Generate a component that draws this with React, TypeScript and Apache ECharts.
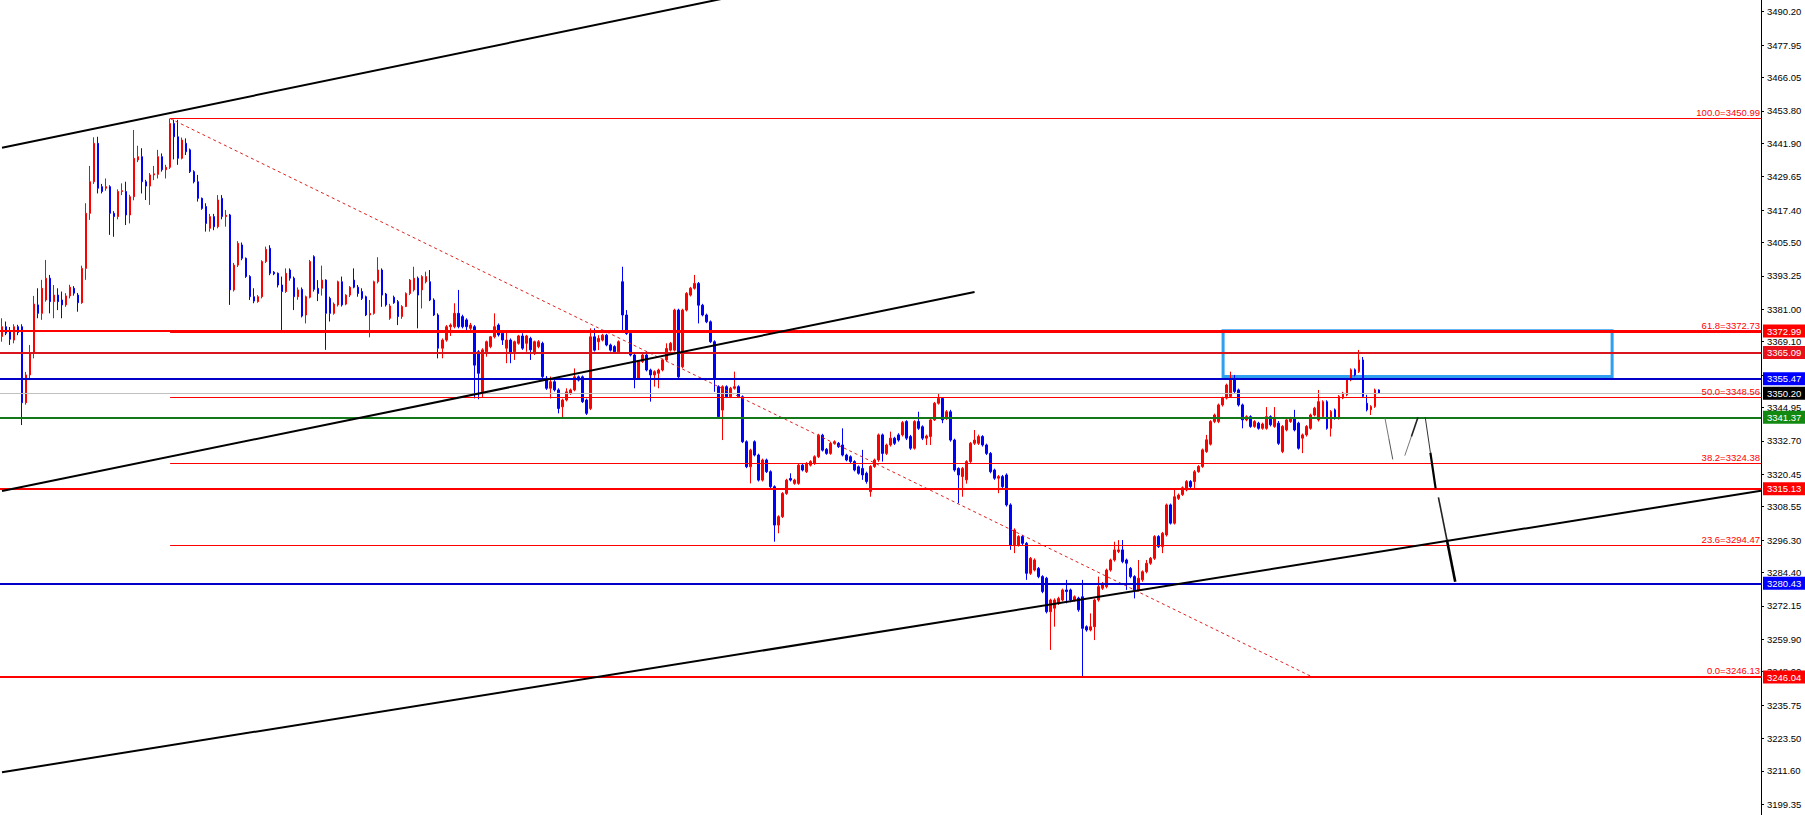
import React, { useEffect, useRef } from "react";
import * as echarts from "echarts";

// ---- candle data: [open, close, low, high] ----
const candlesA = [
  [3371.0, 3374.6, 3369.1, 3377.7], [3374.6, 3372.2, 3371.5, 3376.5], [3373.0, 3370.0, 3367.9, 3374.5],
  [3369.7, 3374.6, 3368.5, 3375.5], [3374.6, 3372.5, 3371.5, 3375.3], [3374.6, 3346.7, 3338.5, 3375.5],
  [3346.7, 3356.9, 3346.0, 3358.0], [3356.9, 3364.8, 3355.0, 3367.9], [3364.8, 3382.9, 3363.0, 3385.9],
  [3382.6, 3379.5, 3377.7, 3388.7], [3379.5, 3388.7, 3377.1, 3391.8], [3384.4, 3392.4, 3383.8, 3399.1],
  [3392.4, 3383.8, 3379.5, 3393.6], [3383.8, 3386.2, 3377.7, 3389.9], [3386.2, 3383.8, 3380.7, 3388.7],
  [3384.4, 3382.6, 3377.7, 3387.5], [3382.6, 3385.9, 3381.9, 3386.9], [3385.9, 3389.1, 3385.0, 3390.0],
  [3388.7, 3386.9, 3386.0, 3389.5], [3386.2, 3383.4, 3380.1, 3387.0], [3383.4, 3396.0, 3383.0, 3397.0],
  [3396.0, 3416.2, 3391.8, 3419.9], [3416.2, 3427.8, 3413.8, 3433.6], [3427.8, 3441.9, 3427.0, 3444.1],
  [3441.9, 3425.4, 3423.5, 3444.3], [3426.0, 3424.2, 3423.5, 3427.0], [3425.4, 3426.0, 3424.5, 3429.0],
  [3426.0, 3416.2, 3408.3, 3426.5], [3416.2, 3415.0, 3407.6, 3417.0], [3415.0, 3424.2, 3414.0, 3425.0],
  [3424.2, 3424.5, 3422.9, 3427.2], [3424.2, 3415.6, 3411.9, 3427.8], [3415.6, 3422.3, 3412.5, 3423.0],
  [3422.3, 3436.4, 3421.0, 3446.8], [3435.8, 3437.0, 3435.0, 3441.0], [3437.0, 3427.8, 3423.5, 3440.1],
  [3427.8, 3426.2, 3421.1, 3428.5], [3426.2, 3430.3, 3419.3, 3431.0], [3430.3, 3430.7, 3428.4, 3433.6],
  [3430.5, 3437.0, 3429.0, 3439.5], [3437.0, 3432.2, 3431.5, 3438.2], [3432.2, 3433.1, 3429.0, 3434.0],
  [3433.1, 3449.2, 3432.5, 3450.99], [3449.2, 3444.3, 3436.0, 3450.6], [3444.3, 3436.4, 3434.0, 3450.5],
  [3436.4, 3443.1, 3436.0, 3444.0], [3441.9, 3438.8, 3437.6, 3443.7], [3439.5, 3431.5, 3431.0, 3440.0],
  [3431.5, 3427.8, 3427.2, 3432.0], [3427.8, 3421.7, 3420.5, 3430.3], [3421.7, 3418.0, 3417.5, 3422.0],
  [3418.7, 3412.5, 3409.5, 3419.9], [3410.7, 3415.0, 3409.5, 3416.0], [3415.0, 3411.3, 3410.0, 3416.0],
  [3411.3, 3421.1, 3410.7, 3422.9], [3421.7, 3415.0, 3414.0, 3422.9], [3415.0, 3415.5, 3411.3, 3417.4],
  [3415.6, 3388.1, 3382.6, 3416.0], [3388.1, 3397.2, 3387.5, 3398.0], [3397.2, 3405.2, 3396.5, 3406.0],
  [3404.6, 3399.7, 3399.0, 3405.5], [3399.7, 3393.0, 3392.5, 3400.0], [3393.0, 3385.6, 3384.4, 3393.5],
  [3385.6, 3384.0, 3383.2, 3388.7], [3383.8, 3385.6, 3383.4, 3386.2], [3385.6, 3398.5, 3385.0, 3399.0],
  [3398.5, 3403.0, 3398.0, 3404.0], [3403.4, 3394.2, 3393.5, 3404.5], [3394.6, 3394.0, 3393.5, 3395.0],
  [3394.2, 3389.9, 3389.0, 3394.5], [3389.9, 3387.5, 3373.4, 3393.0], [3387.5, 3394.2, 3387.0, 3396.0],
  [3395.4, 3392.4, 3391.5, 3396.0], [3392.4, 3385.6, 3380.7, 3393.0], [3385.6, 3388.1, 3384.5, 3389.0],
];
const candlesB = [
  [3388.3, 3378.5, 3378.0, 3389.0], [3378.9, 3385.6, 3375.8, 3386.0], [3385.4, 3398.5, 3385.0, 3399.1],
  [3400.3, 3388.3, 3387.5, 3400.8], [3388.7, 3386.8, 3384.0, 3391.7], [3388.7, 3391.7, 3386.0, 3397.0],
  [3391.7, 3379.5, 3366.1, 3392.0], [3385.0, 3379.5, 3376.5, 3385.6], [3379.5, 3382.9, 3379.0, 3383.5],
  [3382.6, 3391.1, 3382.0, 3391.5], [3391.1, 3382.6, 3382.0, 3393.0], [3382.9, 3386.2, 3382.5, 3386.5],
  [3386.2, 3389.1, 3385.5, 3389.5], [3391.7, 3389.1, 3388.7, 3396.0], [3389.1, 3386.8, 3385.6, 3389.9],
  [3387.5, 3385.0, 3384.4, 3388.7], [3385.6, 3378.9, 3378.5, 3386.0], [3378.9, 3379.5, 3370.7, 3384.4],
  [3379.5, 3391.1, 3379.0, 3391.5], [3391.1, 3395.4, 3390.5, 3400.1], [3395.4, 3386.2, 3381.9, 3396.0],
  [3386.6, 3382.6, 3382.0, 3387.0], [3377.7, 3382.2, 3377.1, 3383.0], [3385.4, 3383.4, 3383.0, 3386.0],
  [3383.8, 3378.3, 3375.2, 3384.4], [3378.3, 3382.0, 3377.5, 3382.5], [3382.0, 3386.8, 3381.8, 3387.2],
  [3386.8, 3391.7, 3386.2, 3392.1], [3388.1, 3392.4, 3387.5, 3396.6], [3392.4, 3386.2, 3374.0, 3393.0],
  [3388.1, 3393.0, 3381.3, 3393.5], [3391.1, 3393.0, 3390.5, 3394.8], [3391.1, 3384.4, 3384.0, 3395.4],
  [3384.4, 3378.9, 3378.5, 3385.0], [3378.9, 3366.7, 3363.0, 3379.5], [3366.7, 3369.7, 3363.0, 3370.3],
  [3369.7, 3374.6, 3369.1, 3375.2], [3374.6, 3375.2, 3371.2, 3375.8], [3374.6, 3379.5, 3374.0, 3383.2],
  [3379.5, 3374.6, 3374.0, 3388.1], [3378.3, 3374.6, 3374.0, 3379.0], [3377.1, 3374.6, 3373.4, 3377.7],
  [3374.0, 3375.2, 3373.4, 3376.0], [3374.6, 3360.5, 3348.3, 3375.2], [3365.4, 3357.5, 3348.0, 3366.0],
  [3350.8, 3366.1, 3348.5, 3366.7], [3365.4, 3369.1, 3363.6, 3369.5], [3367.3, 3370.9, 3366.7, 3371.2],
  [3370.9, 3374.6, 3370.3, 3379.5], [3375.2, 3371.6, 3371.0, 3375.8], [3372.2, 3369.7, 3367.9, 3372.5],
  [3366.7, 3369.7, 3361.2, 3372.8], [3369.7, 3364.8, 3361.2, 3370.3], [3365.4, 3369.1, 3362.4, 3369.5],
  [3368.5, 3371.2, 3368.0, 3371.6], [3371.2, 3366.7, 3366.1, 3372.2], [3368.5, 3371.2, 3365.4, 3371.6],
  [3370.3, 3366.1, 3362.4, 3370.9], [3364.8, 3369.1, 3364.2, 3369.5], [3367.3, 3369.1, 3366.7, 3369.7],
  [3368.5, 3356.3, 3355.7, 3369.1], [3355.7, 3352.0, 3351.4, 3356.5], [3352.0, 3354.4, 3348.3, 3356.3],
  [3354.4, 3351.4, 3350.8, 3355.0], [3351.4, 3344.6, 3342.8, 3352.0],
];
const candlesC = [
  [3345.2, 3347.7, 3341.0, 3348.2], [3347.7, 3350.7, 3347.2, 3352.0], [3350.1, 3351.4, 3349.6, 3351.9],
  [3351.4, 3356.2, 3350.9, 3359.3], [3356.2, 3355.0, 3354.5, 3356.7], [3356.2, 3347.1, 3346.6, 3356.7],
  [3347.7, 3342.8, 3342.2, 3348.2], [3344.6, 3370.9, 3344.0, 3374.0], [3370.9, 3366.0, 3365.5, 3374.0],
  [3369.1, 3370.3, 3366.0, 3371.5], [3369.7, 3371.5, 3369.2, 3372.0], [3371.5, 3367.9, 3367.4, 3372.0],
  [3367.9, 3366.0, 3365.5, 3368.4], [3367.3, 3365.4, 3364.9, 3367.8], [3365.4, 3369.1, 3364.8, 3369.6],
  [3391.1, 3378.9, 3373.4, 3396.6], [3378.9, 3372.1, 3371.6, 3380.7], [3372.1, 3364.2, 3363.7, 3372.6],
  [3364.2, 3355.6, 3352.0, 3364.7], [3355.6, 3361.8, 3355.1, 3362.3], [3361.8, 3364.2, 3361.3, 3364.7],
  [3364.2, 3358.7, 3358.2, 3365.4], [3358.7, 3356.9, 3347.1, 3359.2], [3356.9, 3358.1, 3352.6, 3358.6],
  [3357.5, 3358.7, 3352.0, 3359.2], [3358.7, 3362.4, 3358.2, 3362.9], [3362.4, 3366.6, 3361.9, 3368.5],
  [3366.0, 3368.5, 3365.5, 3369.0], [3366.0, 3380.7, 3365.5, 3381.2], [3380.7, 3356.2, 3355.6, 3381.2],
  [3359.9, 3380.7, 3359.4, 3381.2], [3380.7, 3386.8, 3380.2, 3387.3], [3386.2, 3388.7, 3385.7, 3389.2],
  [3388.7, 3390.5, 3388.2, 3393.6], [3390.5, 3382.5, 3375.8, 3391.0], [3382.5, 3378.9, 3378.4, 3383.0],
  [3378.9, 3376.4, 3375.9, 3379.4], [3376.4, 3369.1, 3368.6, 3376.9], [3369.1, 3355.6, 3350.7, 3369.6],
  [3352.6, 3341.6, 3341.1, 3353.1], [3344.0, 3352.6, 3333.0, 3353.1], [3352.6, 3348.9, 3348.4, 3353.1],
  [3348.9, 3352.0, 3348.4, 3352.5], [3352.0, 3352.6, 3351.5, 3358.1], [3352.6, 3348.9, 3348.4, 3353.1],
  [3348.9, 3332.4, 3331.9, 3349.4], [3332.4, 3323.2, 3322.7, 3332.9], [3323.2, 3329.3, 3317.1, 3329.8],
  [3332.4, 3327.5, 3327.0, 3332.9], [3327.5, 3318.3, 3317.8, 3328.0], [3318.3, 3325.7, 3317.8, 3326.2],
  [3325.7, 3321.4, 3320.9, 3326.2], [3321.4, 3315.9, 3315.4, 3321.9], [3315.9, 3301.8, 3295.7, 3316.4],
  [3301.8, 3304.9, 3298.8, 3305.4], [3304.9, 3313.4, 3304.4, 3313.9], [3313.4, 3318.3, 3312.9, 3318.8],
  [3318.9, 3318.3, 3317.8, 3320.8], [3317.1, 3318.3, 3316.6, 3318.8], [3317.1, 3323.8, 3316.6, 3324.3],
  [3323.8, 3322.0, 3321.5, 3324.3], [3321.4, 3324.4, 3320.9, 3324.9], [3323.8, 3325.1, 3323.3, 3325.6],
  [3324.4, 3326.9, 3323.9, 3327.4], [3326.9, 3334.8, 3326.4, 3335.3], [3334.8, 3329.3, 3328.8, 3335.3],
  [3329.6, 3328.1, 3327.6, 3330.1], [3328.1, 3331.8, 3327.6, 3332.3], [3331.8, 3332.4, 3331.3, 3332.9],
  [3331.8, 3330.6, 3330.1, 3332.3], [3331.2, 3327.5, 3327.0, 3337.3], [3327.5, 3325.7, 3325.2, 3328.0],
  [3326.9, 3325.1, 3324.6, 3327.4], [3325.1, 3322.0, 3321.5, 3325.6], [3323.2, 3320.8, 3320.3, 3323.7],
];
const candlesD = [
  [3322.6, 3320.2, 3318.4, 3329.4], [3320.8, 3317.8, 3317.0, 3321.4], [3314.1, 3323.3, 3312.2, 3323.8],
  [3323.3, 3325.7, 3322.8, 3326.2], [3325.7, 3334.9, 3325.0, 3335.4], [3334.9, 3328.1, 3325.1, 3335.4],
  [3328.1, 3331.2, 3327.5, 3331.7], [3331.2, 3333.7, 3330.6, 3336.1], [3333.7, 3331.8, 3331.2, 3334.2],
  [3334.9, 3333.0, 3332.4, 3335.5], [3334.9, 3339.4, 3334.3, 3340.0], [3339.8, 3333.7, 3333.0, 3340.3],
  [3334.3, 3330.0, 3329.4, 3334.9], [3330.0, 3339.8, 3329.5, 3340.3], [3339.8, 3337.3, 3336.7, 3343.4],
  [3337.9, 3333.7, 3333.0, 3338.4], [3333.7, 3334.5, 3331.2, 3335.0], [3334.3, 3340.4, 3331.2, 3341.0],
  [3340.4, 3346.5, 3340.0, 3347.0], [3346.5, 3348.3, 3346.0, 3350.2], [3348.3, 3340.4, 3339.2, 3348.8],
  [3341.0, 3343.4, 3340.4, 3344.0], [3343.4, 3333.0, 3332.4, 3344.1], [3333.0, 3322.0, 3321.4, 3333.5],
  [3322.6, 3320.2, 3309.8, 3323.0], [3319.6, 3322.6, 3312.2, 3323.1], [3318.4, 3325.1, 3317.0, 3325.6],
  [3325.1, 3331.8, 3324.5, 3332.3], [3331.8, 3333.0, 3331.2, 3336.7], [3331.8, 3334.3, 3331.2, 3335.0],
  [3334.3, 3331.2, 3330.6, 3334.8], [3331.2, 3328.1, 3327.5, 3331.7], [3328.1, 3321.4, 3320.8, 3328.6],
  [3322.0, 3319.0, 3318.4, 3322.5], [3319.0, 3319.6, 3313.5, 3320.2], [3319.6, 3315.9, 3315.3, 3320.2],
  [3320.2, 3309.2, 3308.6, 3320.8], [3309.2, 3294.5, 3292.7, 3309.8], [3294.5, 3300.0, 3291.5, 3300.6],
  [3294.5, 3297.6, 3293.9, 3298.1], [3297.6, 3295.1, 3294.5, 3298.2], [3295.1, 3284.1, 3281.7, 3295.6],
  [3284.1, 3289.6, 3283.5, 3290.1], [3285.3, 3289.0, 3284.8, 3289.6], [3285.9, 3282.9, 3282.3, 3286.4],
  [3282.9, 3277.4, 3276.8, 3283.4], [3282.3, 3270.0, 3269.4, 3282.8], [3270.0, 3274.3, 3256.0, 3274.8],
  [3271.3, 3274.3, 3264.5, 3274.9], [3273.1, 3274.9, 3272.5, 3275.5], [3274.3, 3278.0, 3273.8, 3278.5],
  [3278.0, 3277.4, 3273.1, 3281.7], [3278.0, 3274.3, 3273.5, 3278.5], [3274.3, 3275.5, 3273.7, 3276.0],
  [3275.0, 3270.7, 3270.0, 3275.5], [3275.5, 3263.9, 3246.13, 3281.7], [3264.5, 3263.3, 3262.7, 3265.0],
  [3263.3, 3264.5, 3262.8, 3269.4], [3264.5, 3274.3, 3259.6, 3274.8], [3274.3, 3279.2, 3273.7, 3282.9],
  [3278.6, 3280.4, 3278.0, 3280.9], [3279.2, 3285.3, 3278.6, 3285.8], [3285.3, 3289.0, 3284.7, 3289.5],
  [3289.0, 3292.7, 3288.4, 3295.7], [3292.1, 3292.7, 3291.5, 3296.3], [3292.7, 3288.4, 3287.8, 3296.3],
  [3289.0, 3287.8, 3278.0, 3289.5], [3285.9, 3282.9, 3282.3, 3286.4], [3282.9, 3278.0, 3274.9, 3283.4],
  [3278.0, 3282.3, 3277.4, 3289.0], [3281.7, 3284.7, 3281.0, 3285.2], [3284.7, 3287.8, 3284.1, 3289.0],
  [3287.8, 3289.6, 3287.2, 3290.1], [3289.6, 3297.6, 3289.0, 3298.1], [3297.6, 3293.9, 3293.4, 3298.1],
  [3293.9, 3298.8, 3291.5, 3299.3], [3298.2, 3309.2, 3297.6, 3309.7], [3309.2, 3302.5, 3302.0, 3309.7],
  [3302.5, 3312.2, 3302.0, 3314.7], [3311.6, 3312.8, 3311.0, 3313.4],
];
const candlesE = [
  [3313.0, 3315.5, 3312.5, 3316.0], [3314.7, 3317.8, 3314.2, 3318.3], [3317.8, 3315.9, 3315.3, 3318.3],
  [3317.8, 3321.4, 3314.7, 3322.0], [3321.4, 3323.3, 3321.0, 3323.8], [3323.3, 3329.4, 3322.8, 3329.9],
  [3328.8, 3333.1, 3328.3, 3334.9], [3331.5, 3339.8, 3331.0, 3340.3], [3339.8, 3342.2, 3339.2, 3342.7],
  [3339.8, 3345.9, 3339.2, 3346.4], [3345.9, 3348.4, 3345.3, 3348.9], [3348.4, 3353.2, 3347.9, 3353.7],
  [3349.0, 3355.1, 3348.5, 3358.1], [3355.1, 3350.8, 3350.2, 3356.9], [3351.4, 3345.9, 3345.3, 3351.9],
  [3345.9, 3340.4, 3337.3, 3346.4], [3340.4, 3341.6, 3339.9, 3342.1], [3341.6, 3338.0, 3337.5, 3342.1],
  [3338.0, 3339.8, 3337.5, 3340.3], [3339.2, 3337.3, 3336.8, 3339.7], [3337.3, 3338.9, 3336.8, 3339.4],
  [3337.3, 3341.6, 3336.8, 3345.1], [3341.6, 3338.6, 3338.0, 3342.1], [3338.0, 3341.0, 3337.5, 3345.1],
  [3339.2, 3331.8, 3331.2, 3340.0], [3328.8, 3338.0, 3328.2, 3338.5], [3336.7, 3340.4, 3336.2, 3340.9],
  [3339.8, 3341.0, 3339.3, 3341.5], [3341.0, 3336.7, 3336.2, 3344.1], [3339.2, 3330.0, 3329.5, 3339.7],
  [3333.7, 3334.9, 3328.2, 3335.4], [3334.9, 3338.0, 3334.3, 3338.5], [3337.3, 3342.2, 3336.8, 3342.7],
  [3342.2, 3344.7, 3341.7, 3345.2], [3340.4, 3347.1, 3339.8, 3351.4], [3341.6, 3347.1, 3341.0, 3347.6],
  [3347.1, 3337.3, 3336.8, 3347.6], [3337.3, 3343.5, 3334.3, 3344.0], [3344.1, 3341.0, 3340.5, 3344.6],
  [3341.0, 3349.0, 3340.5, 3349.5], [3348.4, 3350.2, 3348.0, 3350.7], [3349.6, 3355.1, 3349.1, 3355.6],
  [3355.1, 3358.8, 3354.6, 3359.3], [3358.8, 3356.9, 3356.4, 3359.3], [3358.1, 3362.4, 3357.6, 3366.1],
  [3362.4, 3349.0, 3348.5, 3363.5], [3346.5, 3344.1, 3343.5, 3349.6], [3344.1, 3345.3, 3342.2, 3345.8],
  [3345.3, 3351.4, 3344.8, 3351.9], [3351.4, 3350.2, 3349.9, 3351.6],
];

// ---- axis ----
const SLOTS = 440;
const Y_MIN = 3195.41;
const Y_MAX = 3494.49;
const yTicks = [
  3490.2, 3477.95, 3466.05, 3453.8, 3441.9, 3429.65, 3417.4, 3405.5, 3393.25, 3381.0, 3369.1, 3356.85,
  3344.95, 3332.7, 3320.45, 3308.55, 3296.3, 3284.4, 3272.15, 3259.9, 3248.0, 3235.75, 3223.5, 3211.6, 3199.35,
];

// ---- horizontal levels (price tags) ----
const levelPrices = [3372.99, 3365.09, 3355.47, 3350.2, 3341.37, 3315.13, 3280.43, 3246.04];
const levelLineColors = ["#ff0000", "#d9141c", "#0000c8", "#c0c0c0", "#12781a", "#ff0000", "#0000c8", "#ff0000"];
const levelTagColors = ["#ff0000", "#e8101a", "#0000ff", "#000000", "#128a12", "#ff0000", "#0000ff", "#ff0000"];
const levelWidths = [2, 2, 2, 1, 2, 2, 2, 2];

// ---- fibonacci ----
const fibRatios = ["100.0", "61.8", "50.0", "38.2", "23.6", "0.0"];
const fibPrices = [3450.99, 3372.73, 3348.56, 3324.38, 3294.47, 3246.13];
const fibStartIndex = 42;
const fibDiagonal = [[42, 3450.99], [327.3, 3246.13]];

// ---- trend lines ----
const upperChannel = [[0, 3440.3], [250, 3516.2]];
const midChannel = [[0, 3314.3], [243, 3387.3]];
const lowerChannel = [[0, 3211.1], [439.5, 3314.4]];
// forecast strokes: [start, end], each drawn in two parts (thin -> thicker)
const forecastSegments = [
  [[345.55, 3341.0], [347.5, 3325.9]],
  [[350.5, 3327.3], [353.8, 3341.4]],
  [[355.6, 3341.4], [358.2, 3315.3]],
  [[358.9, 3312.0], [363.1, 3281.0]],
];
const forecastWidths = [[1, 1], [1, 1.6], [1, 2.2], [1.6, 2.6]];
const forecastColors = [["#777777", "#555555"], ["#777777", "#222222"], ["#333333", "#000000"], ["#222222", "#000000"]];
const zoneBox = [[305.1, 3373.1], [402.3, 3356.3]];

const FONT = "Liberation Sans";

export default function App() {
  const ref = useRef<HTMLDivElement>(null);

  useEffect(() => {
    if (!ref.current) return;
    const chart = echarts.init(ref.current, null, { renderer: "svg" });
    const candles = [...candlesA, ...candlesB, ...candlesC, ...candlesD, ...candlesE];
    const categories = Array.from({ length: SLOTS }, (_, i) => String(i));

    const lineSeries = (data: number[][], color: string, width: number, type: any = "solid", z = 5) => ({
      type: "line",
      xAxisIndex: 1,
      yAxisIndex: 0,
      data,
      symbol: "none",
      silent: true,
      clip: true,
      z,
      lineStyle: { color, width, type },
    });

    const forecastSeries: any[] = [];
    forecastSegments.forEach((seg, i) => {
      const [a, b] = seg;
      const mid = [(a[0] + b[0]) / 2, (a[1] + b[1]) / 2];
      forecastSeries.push(lineSeries([a, mid], forecastColors[i][0], forecastWidths[i][0], "solid", 6));
      forecastSeries.push(lineSeries([mid, b], forecastColors[i][1], forecastWidths[i][1], "solid", 6));
    });

    const levelLines = levelPrices.map((p, i) => ({
      yAxis: p,
      lineStyle: { color: levelLineColors[i], width: levelWidths[i], type: "solid" },
      label: {
        show: true,
        position: "end",
        formatter: p.toFixed(2),
        backgroundColor: levelTagColors[i],
        color: "#ffffff",
        padding: [2, 4, 1, 4],
        fontSize: 9.5,
        fontFamily: FONT,
        distance: 2,
      },
    }));

    const fibLines = fibPrices.map((p, i) => [
      {
        coord: [fibStartIndex, p],
        lineStyle: { color: "#ff0000", width: 1, type: "solid" },
        label: {
          show: true,
          position: "insideEndTop",
          formatter: `${fibRatios[i]}=${p.toFixed(2)}`,
          color: "#ff0000",
          fontSize: 9.5,
          fontFamily: FONT,
          distance: 1,
        },
      },
      { coord: [439.5, p] },
    ]);

    chart.setOption({
      animation: false,
      backgroundColor: "#ffffff",
      grid: { left: 0, right: 44, top: 0, bottom: 0 },
      xAxis: [
        { type: "category", data: categories, show: false, boundaryGap: true },
        { type: "value", min: -0.5, max: SLOTS - 0.5, show: false },
      ],
      yAxis: [
        {
          type: "value",
          position: "right",
          min: Y_MIN,
          max: Y_MAX,
          splitLine: { show: false },
          axisLine: { show: true, onZero: false, lineStyle: { color: "#000000", width: 1 } },
          axisTick: { show: true, length: 3, customValues: yTicks, lineStyle: { color: "#000000" } },
          axisLabel: {
            show: true,
            customValues: yTicks,
            formatter: (v: number) => v.toFixed(2),
            color: "#000000",
            fontSize: 9.5,
            fontFamily: FONT,
            margin: 6,
          },
        },
      ],
      series: [
        {
          type: "candlestick",
          xAxisIndex: 0,
          yAxisIndex: 0,
          data: candles,
          barWidth: 2,
          z: 2,
          silent: true,
          itemStyle: {
            color: "#ff0000",
            color0: "#0000ff",
            borderColor: "#ff0000",
            borderColor0: "#0000ff",
            borderWidth: 1,
          },
        },
        {
          ...lineSeries(lowerChannel, "#000000", 2, "solid", 6),
          markLine: {
            silent: true,
            symbol: ["none", "none"],
            animation: false,
            data: [...fibLines, ...levelLines],
          },
          markArea: {
            silent: true,
            itemStyle: { color: "rgba(0,0,0,0)", borderColor: "#2f9ff0", borderWidth: 3 },
            data: [[{ coord: zoneBox[0] }, { coord: zoneBox[1] }]],
          },
        },
        lineSeries(upperChannel, "#000000", 2, "solid", 6),
        lineSeries(midChannel, "#000000", 2, "solid", 6),
        lineSeries(fibDiagonal, "#e02020", 1, [3, 3], 4),
        ...forecastSeries,
      ],
    });

    return () => chart.dispose();
  }, []);

  return (
    <div
      ref={ref}
      style={{ position: "absolute", left: 0, top: 0, width: 1805, height: 815, background: "#fff" }}
    />
  );
}
